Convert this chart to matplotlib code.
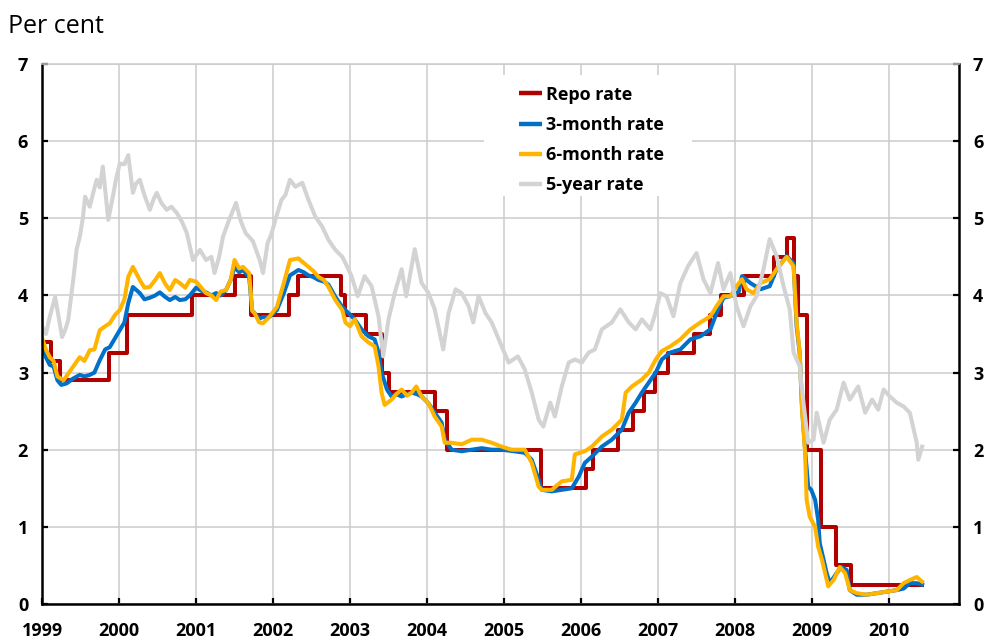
import matplotlib
matplotlib.use("Agg")
from matplotlib import pyplot as plt
from matplotlib.patches import Rectangle

plt.rcParams['font.family'] = ['Open Sans', 'DejaVu Sans']

# repo rate, step changes (decimal year, per cent)
repo_t = [1999.0, 1999.12, 1999.23, 1999.87, 2000.11, 2000.95, 2001.51, 2001.71,
          2002.21, 2002.33, 2002.88, 2002.94, 2003.21, 2003.41, 2003.5, 2004.1,
          2004.26, 2005.48, 2006.06, 2006.15, 2006.48, 2006.67, 2006.82, 2006.96,
          2007.13, 2007.47, 2007.68, 2007.82, 2008.12, 2008.5, 2008.67, 2008.77,
          2008.82, 2008.93, 2009.12, 2009.31, 2009.51, 2010.43]
repo_v = [3.40, 3.15, 2.90, 3.25, 3.75, 4.00, 4.25, 3.75,
          4.00, 4.25, 4.00, 3.75, 3.50, 3.00, 2.75, 2.50,
          2.00, 1.50, 1.75, 2.00, 2.25, 2.50, 2.75, 3.00,
          3.25, 3.50, 3.75, 4.00, 4.25, 4.50, 4.75, 4.25,
          3.75, 2.00, 1.00, 0.50, 0.25, 0.25]

# 3-month rate
m3_t = [1999.0, 1999.05, 1999.1, 1999.15, 1999.2, 1999.25, 1999.32, 1999.4, 1999.49, 1999.55,
        1999.62, 1999.68, 1999.75, 1999.82, 1999.88, 1999.95, 2000.01, 2000.07, 2000.12, 2000.18,
        2000.27, 2000.33, 2000.4, 2000.47, 2000.53, 2000.6, 2000.66, 2000.73, 2000.79, 2000.86,
        2000.92, 2001.0, 2001.07, 2001.13, 2001.2, 2001.26, 2001.32, 2001.39, 2001.45, 2001.5,
        2001.56, 2001.61, 2001.69, 2001.73, 2001.76, 2001.82, 2001.87, 2001.95, 2002.05, 2002.14,
        2002.22, 2002.33, 2002.4, 2002.46, 2002.52, 2002.59, 2002.66, 2002.72, 2002.81, 2002.9,
        2003.0, 2003.06, 2003.15, 2003.24, 2003.32, 2003.37, 2003.41, 2003.48, 2003.54, 2003.6,
        2003.67, 2003.74, 2003.8, 2003.87, 2003.93, 2004.02, 2004.1, 2004.19, 2004.23, 2004.32,
        2004.45, 2004.58, 2004.71, 2004.84, 2004.97, 2005.13, 2005.27, 2005.36, 2005.45, 2005.49,
        2005.62, 2005.75, 2005.88, 2005.97, 2006.05, 2006.14, 2006.27, 2006.4, 2006.53, 2006.62,
        2006.71, 2006.79, 2006.88, 2006.97, 2007.05, 2007.16, 2007.29, 2007.42, 2007.55, 2007.68,
        2007.76, 2007.85, 2007.94, 2008.05, 2008.09, 2008.2, 2008.33, 2008.45, 2008.54, 2008.67,
        2008.76, 2008.8, 2008.84, 2008.87, 2008.91, 2008.95, 2008.99, 2009.04, 2009.08, 2009.1,
        2009.15, 2009.19, 2009.23, 2009.32, 2009.38, 2009.45, 2009.49, 2009.58, 2009.71, 2009.84,
        2009.97, 2010.1, 2010.19, 2010.27, 2010.36, 2010.43]
m3_v = [3.38, 3.2, 3.1, 3.08, 2.9, 2.84, 2.86, 2.92, 2.97, 2.95,
        2.97, 3.0, 3.16, 3.3, 3.33, 3.45, 3.55, 3.65, 3.9, 4.11,
        4.03, 3.95, 3.97, 4.0, 4.04, 3.98, 3.94, 3.98, 3.94, 3.95,
        4.0, 4.1, 4.06, 4.04, 4.0, 4.03, 4.0, 4.07, 4.2, 4.37,
        4.3, 4.33, 4.24, 3.8, 3.77, 3.7, 3.72, 3.72, 3.81, 4.03,
        4.26, 4.33, 4.3, 4.26, 4.24, 4.2, 4.18, 4.14, 3.98, 3.85,
        3.75, 3.69, 3.56, 3.47, 3.43, 3.26, 3.0, 2.78, 2.69, 2.72,
        2.69, 2.72, 2.74, 2.72, 2.69, 2.6, 2.48, 2.35, 2.13, 2.0,
        1.98, 2.0, 2.02, 2.0, 2.0, 1.98, 1.96, 1.87, 1.61, 1.48,
        1.46, 1.48, 1.5, 1.65, 1.83, 1.91, 2.04, 2.13, 2.26, 2.48,
        2.61, 2.74, 2.87, 3.0, 3.17, 3.26, 3.3, 3.43, 3.47, 3.56,
        3.77, 3.97, 3.99, 4.05, 4.25, 4.16, 4.08, 4.12, 4.34, 4.51,
        4.42, 3.6, 3.25, 2.55, 2.0, 1.52, 1.48, 1.35, 1.09, 0.79,
        0.57, 0.4, 0.27, 0.4, 0.48, 0.44, 0.18, 0.12, 0.12, 0.14,
        0.16, 0.18, 0.2, 0.27, 0.27, 0.25]

# 6-month rate
m6_t = [1999.0, 1999.05, 1999.1, 1999.15, 1999.2, 1999.28, 1999.35, 1999.42, 1999.49, 1999.55,
        1999.62, 1999.68, 1999.75, 1999.82, 1999.88, 1999.95, 2000.01, 2000.07, 2000.12, 2000.18,
        2000.27, 2000.33, 2000.4, 2000.47, 2000.53, 2000.6, 2000.66, 2000.73, 2000.79, 2000.86,
        2000.92, 2001.0, 2001.07, 2001.13, 2001.2, 2001.26, 2001.32, 2001.39, 2001.45, 2001.5,
        2001.56, 2001.61, 2001.69, 2001.73, 2001.76, 2001.82, 2001.87, 2001.95, 2002.05, 2002.14,
        2002.22, 2002.33, 2002.4, 2002.46, 2002.52, 2002.59, 2002.66, 2002.72, 2002.81, 2002.9,
        2002.94, 2003.0, 2003.06, 2003.15, 2003.24, 2003.32, 2003.37, 2003.41, 2003.45, 2003.54,
        2003.6, 2003.67, 2003.74, 2003.8, 2003.86, 2003.93, 2004.02, 2004.1, 2004.19, 2004.23,
        2004.32, 2004.45, 2004.58, 2004.71, 2004.84, 2004.97, 2005.1, 2005.27, 2005.36, 2005.45,
        2005.49, 2005.62, 2005.75, 2005.88, 2005.92, 2006.05, 2006.14, 2006.27, 2006.4, 2006.53,
        2006.58, 2006.66, 2006.79, 2006.88, 2006.97, 2007.05, 2007.16, 2007.29, 2007.42, 2007.55,
        2007.68, 2007.76, 2007.85, 2007.94, 2008.02, 2008.09, 2008.15, 2008.24, 2008.33, 2008.45,
        2008.54, 2008.67, 2008.76, 2008.8, 2008.84, 2008.87, 2008.91, 2008.93, 2008.97, 2009.04,
        2009.08, 2009.13, 2009.17, 2009.21, 2009.28, 2009.36, 2009.43, 2009.49, 2009.58, 2009.71,
        2009.84, 2009.97, 2010.1, 2010.19, 2010.27, 2010.36, 2010.43]
m6_v = [3.45, 3.3, 3.2, 3.15, 2.95, 2.9, 3.0, 3.1, 3.2, 3.15,
        3.29, 3.3, 3.55, 3.6, 3.64, 3.75, 3.81, 3.95, 4.24, 4.37,
        4.2, 4.1, 4.11, 4.2, 4.29, 4.15, 4.07, 4.2, 4.16, 4.1,
        4.2, 4.18, 4.1, 4.03, 4.0, 3.94, 4.05, 4.07, 4.2, 4.46,
        4.35, 4.37, 4.29, 3.8, 3.77, 3.65, 3.64, 3.72, 3.85, 4.16,
        4.46, 4.48, 4.42, 4.37, 4.32, 4.24, 4.2, 4.11, 3.94, 3.81,
        3.65, 3.6, 3.69, 3.47, 3.39, 3.34, 3.08, 2.74, 2.58, 2.65,
        2.72, 2.78, 2.7, 2.74, 2.82, 2.69, 2.6, 2.43, 2.3, 2.09,
        2.09, 2.07, 2.13, 2.13, 2.09, 2.04, 2.0, 2.0, 1.83, 1.52,
        1.48, 1.48, 1.59, 1.61, 1.94, 1.98, 2.04, 2.17, 2.26, 2.39,
        2.74, 2.82, 2.91, 3.0, 3.17, 3.28, 3.34, 3.43, 3.56, 3.65,
        3.73, 3.86, 3.99, 3.99, 4.12, 4.21, 4.08, 4.03, 4.16, 4.21,
        4.34, 4.5, 4.38, 3.65, 3.26, 2.52, 1.96, 1.35, 1.13, 1.0,
        0.74, 0.57, 0.4, 0.23, 0.31, 0.48, 0.4, 0.18, 0.14, 0.12,
        0.14, 0.16, 0.18, 0.27, 0.31, 0.35, 0.29]

# 5-year rate
y5_t = [1999.0, 1999.05, 1999.1, 1999.17, 1999.22, 1999.26, 1999.3, 1999.34, 1999.41, 1999.45,
        1999.49, 1999.53, 1999.56, 1999.62, 1999.67, 1999.71, 1999.75, 1999.79, 1999.86, 1999.92,
        1999.96, 2000.01, 2000.07, 2000.12, 2000.18, 2000.22, 2000.27, 2000.33, 2000.4, 2000.45,
        2000.49, 2000.55, 2000.62, 2000.68, 2000.75, 2000.82, 2000.88, 2000.96, 2001.05, 2001.13,
        2001.2, 2001.24, 2001.3, 2001.35, 2001.43, 2001.52, 2001.57, 2001.61, 2001.65, 2001.69,
        2001.74, 2001.78, 2001.83, 2001.87, 2001.93, 2001.98, 2002.03, 2002.11, 2002.16, 2002.22,
        2002.29, 2002.38, 2002.46, 2002.55, 2002.64, 2002.72, 2002.81, 2002.9, 2002.94, 2003.02,
        2003.1, 2003.19, 2003.28, 2003.37, 2003.43, 2003.5, 2003.58, 2003.67, 2003.73, 2003.84,
        2003.93, 2004.02, 2004.1, 2004.21, 2004.28, 2004.37, 2004.45, 2004.54, 2004.6, 2004.67,
        2004.76, 2004.84, 2004.97, 2005.06, 2005.12, 2005.18, 2005.27, 2005.36, 2005.45, 2005.51,
        2005.6, 2005.66, 2005.75, 2005.84, 2005.92, 2006.01, 2006.1, 2006.18, 2006.27, 2006.4,
        2006.51, 2006.62, 2006.71, 2006.79, 2006.9, 2006.96, 2007.03, 2007.11, 2007.2, 2007.29,
        2007.39, 2007.5, 2007.59, 2007.68, 2007.78, 2007.85, 2007.94, 2008.02, 2008.11, 2008.2,
        2008.28, 2008.37, 2008.45, 2008.54, 2008.63, 2008.71, 2008.76, 2008.84, 2008.89, 2008.95,
        2009.02, 2009.06, 2009.15, 2009.23, 2009.32, 2009.41, 2009.49, 2009.6, 2009.69, 2009.78,
        2009.86, 2009.93, 2010.01, 2010.1, 2010.19, 2010.27, 2010.36, 2010.38, 2010.43]
y5_v = [3.6, 3.5, 3.72, 3.98, 3.7, 3.46, 3.55, 3.68, 4.24, 4.6,
        4.76, 5.0, 5.28, 5.15, 5.35, 5.5, 5.4, 5.67, 4.98, 5.28,
        5.5, 5.71, 5.7, 5.82, 5.33, 5.45, 5.5, 5.3, 5.11, 5.25,
        5.33, 5.2, 5.11, 5.15, 5.07, 4.95, 4.81, 4.46, 4.59, 4.46,
        4.5, 4.29, 4.5, 4.76, 4.98, 5.2, 5.0, 4.89, 4.8, 4.76,
        4.7, 4.59, 4.45, 4.29, 4.68, 4.8, 4.98, 5.24, 5.3, 5.5,
        5.41, 5.46, 5.24, 5.02, 4.89, 4.72, 4.59, 4.5, 4.42, 4.25,
        3.99, 4.25, 4.12, 3.73, 3.21, 3.69, 4.03, 4.34, 3.99, 4.6,
        4.16, 4.03, 3.82, 3.3, 3.77, 4.08, 4.03, 3.86, 3.65, 3.99,
        3.77, 3.65, 3.34, 3.13, 3.17, 3.21, 3.04, 2.74, 2.39, 2.3,
        2.61, 2.43, 2.82, 3.13, 3.17, 3.13, 3.26, 3.3, 3.56, 3.65,
        3.82, 3.65, 3.56, 3.69, 3.56, 3.75, 4.03, 3.99, 3.73, 4.16,
        4.38, 4.55, 4.21, 4.03, 4.42, 4.08, 4.29, 3.86, 3.6, 3.86,
        3.99, 4.34, 4.73, 4.51, 4.12, 3.82, 3.26, 3.08, 2.6, 2.09,
        2.13, 2.48, 2.09, 2.39, 2.52, 2.87, 2.65, 2.82, 2.48, 2.65,
        2.52, 2.78, 2.69, 2.61, 2.56, 2.48, 2.09, 1.87, 2.04]

years = list(range(1999, 2011))
yticks = list(range(0, 8))

fig = plt.figure(figsize=(9.84, 6.39), dpi=100)
ax = fig.add_axes([0.0427, 0.0548, 0.932, 0.845])

lw = 2.9
ax.step(repo_t, repo_v, where='post', color='#b00000', lw=lw, label='Repo rate', zorder=2)
ax.plot(m3_t, m3_v, color='#0070c8', lw=lw, label='3-month rate', zorder=2)
ax.plot(m6_t, m6_v, color='#ffb400', lw=lw, label='6-month rate', zorder=2)
ax.plot(y5_t, y5_v, color='#d3d3d3', lw=lw, label='5-year rate', zorder=2)

ax.set_xlim(1999.0, 2010.91)
ax.set_ylim(0, 7)
ax.set_xticks(years)
ax.set_xticklabels([str(y) for y in years])
ax.set_yticks(yticks)
ax.set_axisbelow(True)
ax.grid(True, color='#cccccc', lw=1.1)

for s in ['left', 'right', 'bottom']:
    ax.spines[s].set_linewidth(1.8)
    ax.spines[s].set_color('black')
ax.spines['top'].set_color('#cccccc')
ax.spines['top'].set_linewidth(1.1)

ax.tick_params(axis='y', direction='in', length=4.5, width=1.6, left=True, right=True,
               labelleft=True, labelright=True, pad=10, labelsize=13)
ax.tick_params(axis='x', direction='in', length=4.5, width=1.6, pad=13, labelsize=13)
for lab in ax.get_xticklabels() + ax.get_yticklabels():
    lab.set_fontweight('bold')
for t in ax.yaxis.get_major_ticks():
    t.label2.set_fontweight('bold')

# white box behind legend
ax.add_patch(Rectangle((0.482, 0.756), 0.227, 0.224, transform=ax.transAxes,
                       facecolor='white', edgecolor='none', zorder=1))
leg = ax.legend(loc='upper left', bbox_to_anchor=(0.52, 0.96), frameon=False,
                borderpad=0, borderaxespad=0, handlelength=1.3, handletextpad=0.2,
                labelspacing=0.68, prop={'size': 13, 'weight': 'bold'})
for h in leg.get_lines():
    h.set_linewidth(3.2)
    h.set_solid_capstyle('butt')

fig.text(0.008, 0.958, 'Per cent', fontsize=18, va='center', ha='left')

fig.savefig('out.png', dpi=100)
